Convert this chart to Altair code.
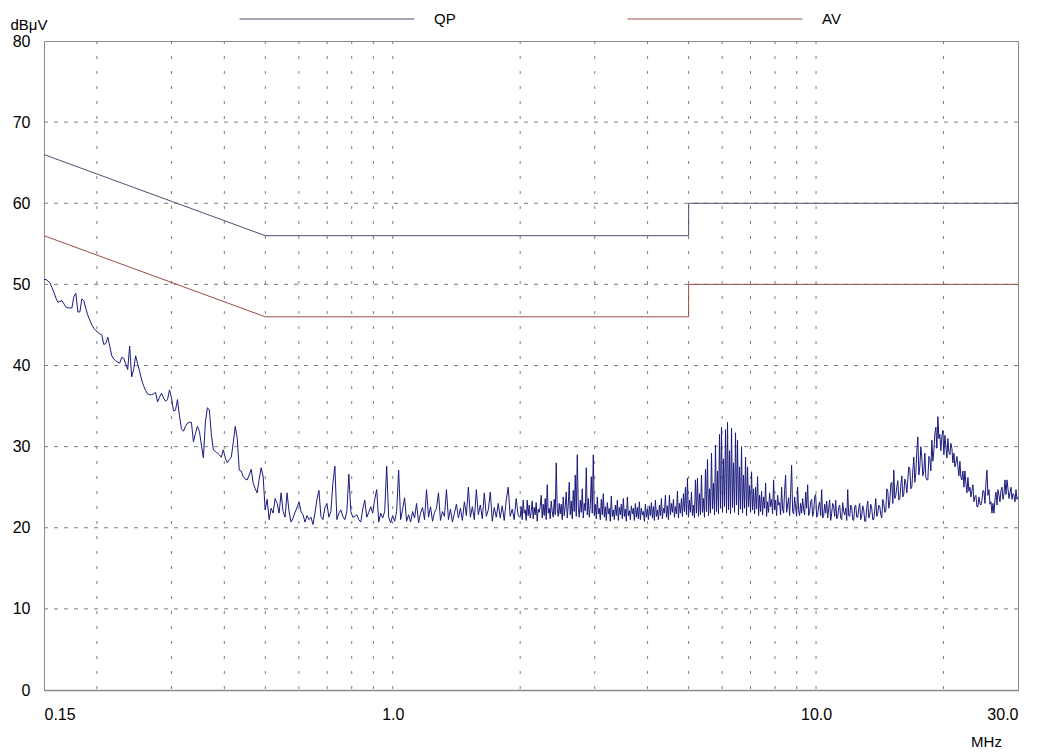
import altair as alt
import pandas as pd
import numpy as np

# ---------------- data ----------------
y_ticks = [0, 10, 20, 30, 40, 50, 60, 70, 80]
x_labels = [0.15, 1.0, 10.0, 30.0]
grid_freqs = [0.2, 0.3, 0.4, 0.5, 0.6, 0.7, 0.8, 0.9, 1, 2, 3, 4, 5, 6, 7, 8, 9, 10, 20]
grid_levels = [10, 20, 30, 40, 50, 60, 70]

limit_names = ["QP", "AV"]
limit_freqs = [0.15, 0.5, 5, 5, 30]
qp_levels = [66, 56, 56, 60, 60]
av_levels = [56, 46, 46, 50, 50]

# measured trace (dBuV), part A: 0.15 - 2 MHz sweep (log-spaced points)
trace_a_db = [
    50.6, 50.6, 50.4, 50.2, 49.6, 49.0, 48.3, 47.8, 47.9, 48.0,
    47.6, 47.2, 47.1, 47.1, 47.1, 48.5, 48.9, 46.6, 46.6, 48.2,
    48.0, 47.0, 46.2, 45.6, 45.0, 44.6, 44.3, 44.1, 43.9, 43.8,
    42.6, 42.7, 43.5, 42.4, 41.2, 40.8, 40.6, 40.4, 40.3, 41.0,
    40.9, 40.2, 39.5, 42.4, 38.6, 39.5, 41.2, 40.2, 39.3, 38.2,
    37.5, 36.9, 36.5, 36.4, 36.4, 36.5, 36.7, 35.5, 36.1, 36.6,
    36.0, 35.6, 35.8, 37.0, 36.0, 34.4, 34.5, 35.8, 33.8, 32.2,
    31.9, 32.5, 32.9, 33.0, 33.0, 30.6, 31.6, 32.5, 31.9, 30.2,
    28.6, 33.0, 34.8, 34.5, 31.5, 29.6, 29.4, 29.2, 29.0, 28.7,
    29.6, 28.6, 28.0, 28.4, 28.7, 30.5, 32.5, 31.0, 27.1,
    27.0, 26.3, 26.0, 25.9, 26.5, 27.2, 25.5, 24.8, 24.3, 26.0,
    27.4, 26.3, 22.2, 23.5, 21.0, 22.4, 21.8, 23.6, 23.0, 21.8,
    24.3, 22.0, 21.3, 24.3, 22.0, 20.7, 21.2, 21.9, 22.5, 23.2,
    22.0, 21.6, 20.7, 21.5, 21.0, 21.3, 20.4, 21.8, 23.5, 24.6,
    21.4, 21.0, 22.5, 23.0, 21.3, 22.0, 25.5, 27.6, 21.0, 21.8,
    22.2, 21.4, 21.0, 22.0, 26.6, 22.0, 21.3, 21.4, 21.6, 21.0,
    20.7, 22.3, 23.4, 21.3, 21.9, 22.6, 21.8, 23.5, 24.7, 20.7,
    21.8, 21.2, 22.0, 27.6, 21.3, 20.6, 21.5, 20.8, 22.0, 27.1,
    21.0, 22.3, 23.7, 20.8, 21.6, 20.7, 22.0, 21.2, 23.0, 20.6,
    21.8, 22.5, 21.0, 24.7, 21.3, 22.6, 20.8, 21.9, 22.4, 24.3,
    20.9, 22.0, 21.4, 24.7, 21.0, 22.3, 20.7, 21.8, 22.9, 21.2,
    22.4, 20.9, 23.2, 21.5, 25.0, 21.3, 22.6, 21.0, 24.7, 21.6,
    22.8, 21.1, 24.3, 21.4, 22.2, 24.4, 20.8, 22.5, 21.3, 23.0,
    21.2, 22.7, 20.9, 23.4, 25.0, 21.4, 22.3, 21.0, 23.6, 21.5,
]

# part B: 2 - 30 MHz sweep (denser log-spaced points)
trace_b_db = [
    21.3, 22.6, 21.0, 23.4, 21.8, 22.2, 20.9, 23.4, 21.5, 22.8, 21.2, 22.0, 23.3, 21.1, 22.5, 21.6, 23.1, 20.8, 22.3, 21.9,
    22.6, 24.0, 21.2, 22.9, 21.5, 23.6, 21.0, 25.3, 21.8, 22.4, 21.1, 23.3, 22.0, 21.3, 23.5, 21.6, 28.0, 22.2, 21.4, 23.0,
    21.7, 22.9, 21.0, 23.8, 21.5, 22.6, 24.4, 21.2, 22.8, 25.6, 21.6, 23.3, 21.1, 24.6, 22.0, 26.5, 21.4, 29.0, 22.5, 21.3,
    23.4, 21.9, 24.8, 21.2, 23.0, 22.1, 27.4, 21.6, 23.6, 21.3, 22.7, 26.3, 21.8, 29.0, 21.5, 22.9, 21.1, 23.8, 21.7, 22.4,
    21.0, 23.5, 21.6, 24.2, 21.3, 22.6, 20.9, 23.1, 21.7, 22.4, 20.8, 23.9, 21.4, 22.2, 21.0, 22.8, 21.5, 23.4, 20.9, 22.5,
    21.6, 22.9, 21.1, 23.6, 21.4, 22.3, 20.8, 23.8, 21.5, 22.1, 21.0, 22.7, 21.7, 22.4, 20.9, 23.0, 21.3, 22.5, 21.1, 23.2,
    21.0, 22.4, 21.6, 22.0, 20.8, 22.9, 21.3, 22.3, 21.0, 22.7, 21.5, 23.1, 21.2, 22.6, 20.9, 23.4, 21.4, 22.2, 21.0, 22.8,
    21.5, 23.6, 21.1, 22.4, 21.8, 24.0, 21.3, 22.7, 21.0, 24.0, 21.6, 23.0, 21.9, 23.5, 21.3, 22.6, 21.7, 24.5, 21.2, 23.0,
    21.8, 23.6, 21.4, 24.2, 22.0, 25.0, 21.6, 26.1, 21.3, 23.4, 21.9, 24.4, 21.5, 22.8, 21.2, 25.9, 21.8, 26.1, 21.4, 24.2,
    21.6, 26.5, 21.9, 23.6, 21.3, 27.2, 22.0, 28.4, 21.5, 24.8, 21.8, 29.2, 22.3, 25.5, 21.6, 30.2, 22.0, 27.0, 21.7, 31.5,
    22.4, 32.4, 21.9, 28.5, 22.6, 32.1, 21.8, 33.0, 22.2, 29.5, 21.7, 32.3, 22.5, 28.0, 21.9, 31.7, 22.8, 30.8, 21.6, 27.5,
    22.3, 30.0, 21.8, 26.5, 22.4, 28.7, 21.5, 27.5, 22.6, 25.2, 21.9, 26.9, 22.2, 24.8, 21.7, 25.0, 22.3, 26.3, 21.5, 24.0,
    22.0, 24.5, 21.6, 23.8, 22.4, 25.5, 21.4, 23.2, 21.9, 24.3, 22.6, 23.5, 21.7, 25.9, 22.2, 23.4, 21.5, 24.0, 22.8, 23.1,
    21.6, 25.0, 22.3, 21.8, 24.6, 26.5, 21.9, 22.8, 23.7, 21.5, 24.2, 27.7, 22.0, 21.7, 23.8, 22.5, 21.4, 25.0, 22.1, 21.5,
    23.0, 21.8, 23.6, 22.2, 21.6, 24.4, 22.4, 25.3, 21.5, 21.8, 23.2, 23.5, 21.4, 22.0, 23.8, 24.1, 21.3, 21.6, 22.7, 23.2,
    21.5, 24.7, 21.2, 21.5, 22.9, 21.8, 23.3, 21.2, 22.4, 23.4, 20.9, 21.8, 23.0, 22.6, 21.4, 23.4, 21.1, 21.3, 22.5, 22.8,
    21.2, 21.0, 23.1, 22.0, 21.6, 22.4, 20.9, 24.7, 21.5, 21.4, 22.8, 22.5, 21.0, 20.9, 22.6, 22.8, 21.3, 21.3, 22.4, 23.0,
    21.0, 21.5, 22.7, 22.2, 20.8, 20.8, 22.5, 23.3, 21.2, 21.6, 22.9, 22.4, 21.0, 21.0, 22.2, 23.6, 21.4, 21.8, 22.8, 22.6,
    21.6, 21.2, 23.5, 23.0, 21.9, 22.0, 24.8, 24.5, 22.4, 23.2, 25.4, 25.6, 23.0, 27.1, 23.6, 24.0, 25.0, 25.8, 23.4, 23.6,
    25.2, 26.4, 23.8, 24.2, 26.0, 25.5, 24.3, 25.9, 27.5, 27.3, 24.8, 25.0, 27.0, 28.7, 25.6, 26.8, 29.5, 31.2, 26.5, 27.5,
    30.0, 28.7, 26.4, 27.0, 29.2, 26.2, 25.9, 25.9, 28.8, 28.5, 27.0, 30.8, 28.2, 29.5, 31.6, 32.4, 29.8, 33.7, 31.0, 31.5,
    29.5, 31.2, 32.0, 29.0, 31.4, 30.0, 28.6, 31.0, 29.3, 29.0, 30.4, 29.8, 28.0, 29.2, 27.5, 28.0, 28.8, 27.5, 26.4, 28.2,
    26.2, 25.9, 27.0, 25.0, 27.0, 25.5, 24.3, 26.2, 24.5, 25.0, 23.8, 24.6, 25.3, 23.2, 23.8, 24.0, 22.6, 22.6, 23.8, 23.0,
    22.8, 23.4, 24.6, 24.5, 23.0, 25.5, 27.1, 24.0, 24.7, 22.9, 23.2, 21.8, 23.0, 21.8, 23.5, 24.4, 22.8, 24.7, 24.0, 23.2,
    24.6, 25.0, 23.5, 24.2, 25.9, 24.1, 25.9, 24.8, 23.6, 24.3, 25.0, 23.5, 24.2, 24.0, 23.2, 24.7, 23.5, 23.8,
]

trace_a_freq = np.geomspace(0.15, 2.0, len(trace_a_db), endpoint=False)
trace_b_freq = np.geomspace(2.0, 30.0, len(trace_b_db))

# ---------------- tables ----------------
trace_df = pd.DataFrame({
    "f": np.concatenate([trace_a_freq, trace_b_freq]),
    "db": trace_a_db + trace_b_db,
})
limit_df = pd.DataFrame({
    "f": limit_freqs + limit_freqs,
    "db": qp_levels + av_levels,
    "name": [limit_names[0]] * len(limit_freqs) + [limit_names[1]] * len(limit_freqs),
    "idx": list(range(len(limit_freqs))) * 2,
})
vgrid_df = pd.DataFrame({"f": grid_freqs})
hgrid_df = pd.DataFrame({"db": grid_levels})

# ---------------- styling ----------------
FONT = "Liberation Sans"
QP_C = "#4c5070"
AV_C = "#9c4c44"
TRACE_C = "#1a1a7c"
GRID_C = "#7c7c7c"
FRAME_C = "#8a8a8a"

x_scale = alt.Scale(type="log", domain=[0.15, 30.0], nice=False)
y_scale = alt.Scale(domain=[0, 80], nice=False, zero=True)

x_axis = alt.Axis(
    values=x_labels,
    labelExpr="datum.value < 0.2 ? '0.15' : format(datum.value, '.1f')",
    grid=False, ticks=False, tickSize=0,
    domain=True, domainColor=FRAME_C, domainWidth=1.5,
    labelFontSize=16, labelColor="black", labelPadding=16, labelFlush=True,
    labelAngle=0, labelFont=FONT,
    title="MHz", titleX=942, titleY=56, titleAlign="center",
    titleBaseline="alphabetic", titleFontSize=15, titleFontWeight="normal",
    titleColor="black", titleFont=FONT,
)
y_axis = alt.Axis(
    values=y_ticks, grid=False, ticks=False, tickSize=0, domain=False,
    labelFontSize=16, labelColor="black", labelPadding=14, labelFont=FONT,
    title="dBμV", titleAngle=0, titleX=-34, titleY=-12, titleAlign="left",
    titleBaseline="alphabetic", titleFontSize=15, titleFontWeight="normal",
    titleColor="black", titleFont=FONT,
)

X = alt.X("f:Q", scale=x_scale, axis=x_axis, title="MHz")
Y = alt.Y("db:Q", scale=y_scale, axis=y_axis, title="dBμV")

vgrid = alt.Chart(vgrid_df).mark_rule(
    stroke=GRID_C, strokeWidth=1, strokeDash=[3, 12]
).encode(x=X)

hgrid = alt.Chart(hgrid_df).mark_rule(
    stroke=GRID_C, strokeWidth=1, strokeDash=[4, 6]
).encode(y=Y)

limits = alt.Chart(limit_df).mark_line(strokeWidth=1).encode(
    x=X,
    y=Y,
    color=alt.Color(
        "name:N",
        scale=alt.Scale(domain=limit_names, range=[QP_C, AV_C]),
        legend=alt.Legend(
            title=None, orient="none", legendX=195, legendY=-30,
            direction="horizontal", columns=2,
            symbolType="stroke", symbolSize=30625, symbolStrokeWidth=1,
            clipHeight=16, labelOffset=19, columnPadding=171, padding=0,
            symbolOffset=0, labelFontSize=15, labelColor="black", labelFont=FONT,
        ),
    ),
    order=alt.Order("idx:Q"),
)

trace = alt.Chart(trace_df).mark_line(color=TRACE_C, strokeWidth=1).encode(
    x=X, y=Y
)

chart = alt.layer(vgrid, hgrid, limits, trace).properties(
    width=974,
    height=649,
    autosize=alt.AutoSizeParams(type="none"),
    padding={"left": 36, "top": 33, "right": 22, "bottom": 58},
).configure(font=FONT).configure_view(stroke=FRAME_C, strokeWidth=1)

chart.save("out.html", embed_options={"renderer": "svg", "actions": False})
